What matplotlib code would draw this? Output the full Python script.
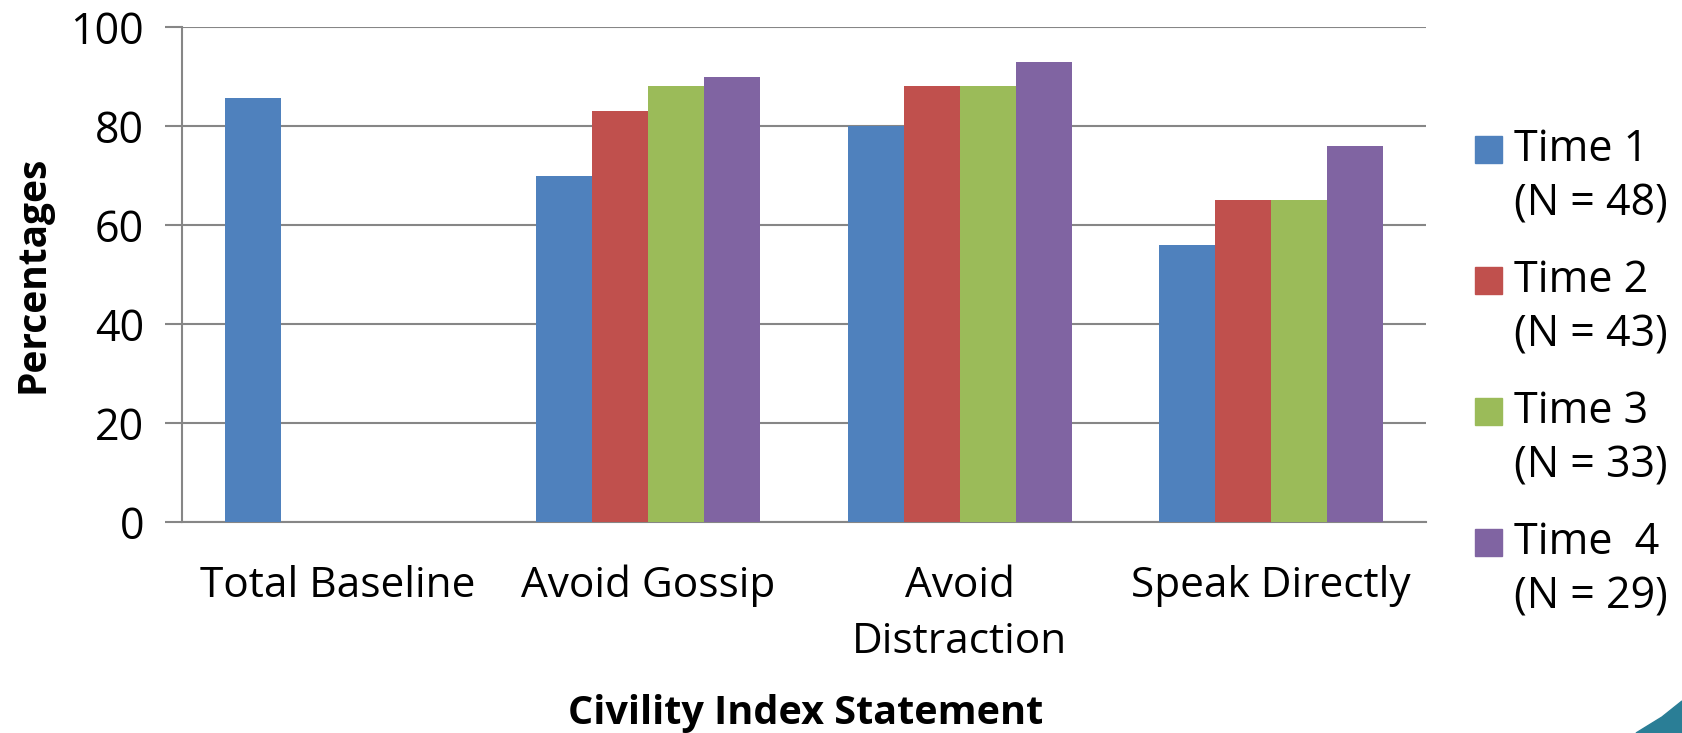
import numpy as np
import matplotlib.pyplot as plt
from matplotlib.patches import Rectangle, Polygon

plt.rcParams['font.family'] = ['Open Sans', 'DejaVu Sans']

categories = ['Total Baseline', 'Avoid Gossip', 'Avoid\nDistraction', 'Speak Directly']
series = ['Time 1\n(N = 48)', 'Time 2\n(N = 43)', 'Time 3\n(N = 33)', 'Time  4\n(N = 29)']
time1 = [85.7, 70, 80, 56]
time2 = [0, 83, 88, 65]
time3 = [0, 88, 88, 65]
time4 = [0, 90, 93, 76]
yticks = [0, 20, 40, 60, 80, 100]

colors = ['#4F81BD', '#C0504D', '#9BBB59', '#8064A2']
grey = '#868686'

fig = plt.figure(figsize=(16.82, 7.33), dpi=100)
ax = fig.add_axes([0.108, 0.288, 0.740, 0.675])

x = np.arange(len(categories))
w = 0.18
for i, vals in enumerate([time1, time2, time3, time4]):
    ax.bar(x + (i - 1.5) * w, vals, width=w, color=colors[i], zorder=3)

ax.set_xlim(-0.5, len(categories) - 0.5)
ax.set_ylim(0, 100)
ax.set_yticks(yticks)
ax.grid(axis='y', color=grey, lw=1.5, zorder=0)
ax.set_xticks(x)
ax.set_xticklabels(categories, fontsize=30.5, linespacing=1.45, va='top')
ax.tick_params(axis='x', length=0, pad=31)
ax.tick_params(axis='y', length=12, width=1.5, color=grey, pad=15, labelsize=31)

for s in ['top', 'right']:
    ax.spines[s].set_visible(False)
for s in ['left', 'bottom']:
    ax.spines[s].set_color(grey)
    ax.spines[s].set_linewidth(1.5)

ax.set_ylabel('Percentages', fontsize=28, fontweight='bold', labelpad=13)
fig.text(0.479, 0.0, 'Civility Index Statement', fontsize=28.5,
         fontweight='bold', ha='center', va='bottom')

# legend: swatch sits beside the first line of each label
for i, lab in enumerate(series):
    line1, line2 = lab.split('\n')
    y1 = 1 - (150 + i * 131) / 733
    y2 = y1 - 54 / 733
    fig.add_artist(Rectangle((1475 / 1682, y1 - 13 / 733), 27 / 1682, 27 / 733,
                             transform=fig.transFigure, color=colors[i]))
    fig.text(1514 / 1682, y1, line1, fontsize=31, va='center', ha='left')
    fig.text(1514 / 1682, y2, line2, fontsize=31, va='center', ha='left')

# corner swoosh
fig.add_artist(Polygon([(1636 / 1682, 0), (1682 / 1682, 0), (1682 / 1682, 32 / 733),
                        (1662 / 1682, 16 / 733)],
                       closed=True, transform=fig.transFigure, color='#2A7E96'))

fig.savefig('out.png', dpi=100)
